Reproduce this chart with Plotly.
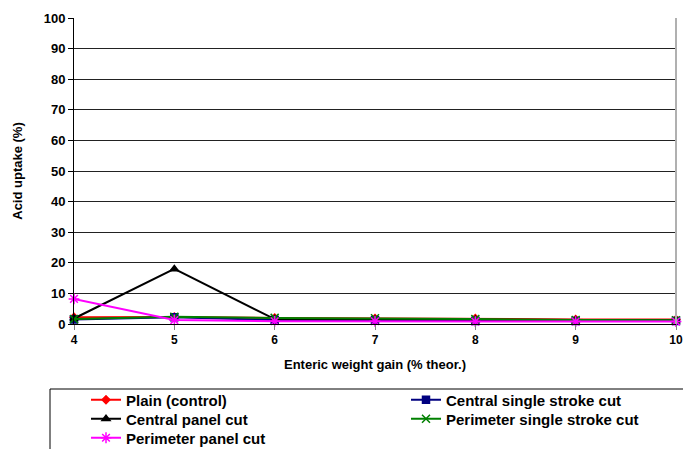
import plotly.graph_objects as go

x_vals = [4, 5, 6, 7, 8, 9, 10]
plain_control = [2.2, 2.3, 2.0, 1.8, 1.8, 1.5, 1.5]
central_single = [1.5, 2.2, 1.3, 1.2, 1.0, 1.0, 1.0]
central_panel = [1.8, 18.0, 1.6, 1.5, 1.4, 1.2, 1.2]
perimeter_single = [1.6, 2.4, 2.0, 1.9, 1.6, 1.3, 1.2]
perimeter_panel = [8.2, 1.3, 0.9, 0.9, 0.8, 0.8, 0.8]

series = [
    ("Plain (control)", plain_control, "#ff0000", "diamond", 6, "legend"),
    ("Central single stroke cut", central_single, "#000080", "square", 7, "legend2"),
    ("Central panel cut", central_panel, "#000000", "triangle-up", 7, "legend3"),
    ("Perimeter single stroke cut", perimeter_single, "#008000", "x-thin-open", 8, "legend4"),
    ("Perimeter panel cut", perimeter_panel, "#ff00ff", "asterisk-open", 9, "legend5"),
]

FONT = "Liberation Sans, Arial, sans-serif"
W, H = 683, 449
L, R, T = 74, 7, 18
PW = W - L - R
PH = 306
B = H - T - PH


def px_x(px):
    return (px - L) / PW


def px_y(py):
    return (T + PH - py) / PH


fig = go.Figure()
for name, vals, col, sym, size, leg in series:
    fig.add_trace(go.Scatter(
        x=x_vals, y=vals, name=name, mode="lines+markers",
        line=dict(color=col, width=2),
        marker=dict(symbol=sym, size=size, color=col, line=dict(color=col, width=1.5)),
        cliponaxis=False, legend=leg,
    ))

legend_font = dict(family=FONT, size=15, weight="bold", color="black")
col1_x = px_x(86)
col2_x = px_x(406)
legend_pos = {
    "legend": (col1_x, 400),
    "legend2": (col2_x, 400),
    "legend3": (col1_x, 419),
    "legend4": (col2_x, 419),
    "legend5": (col1_x, 438),
}
legend_layout = {}
for key, (lx, ly) in legend_pos.items():
    legend_layout[key] = dict(
        x=lx, xanchor="left", y=px_y(ly), yanchor="middle",
        font=legend_font, bgcolor="rgba(0,0,0,0)", borderwidth=0,
    )

fig.update_layout(
    width=W, height=H,
    margin=dict(l=L, r=R, t=T, b=B, autoexpand=False),
    paper_bgcolor="white", plot_bgcolor="white",
    font=dict(family=FONT, size=12, color="black", weight="bold"),
    xaxis=dict(
        range=[4, 10], tickvals=x_vals, ticks="outside", ticklen=5,
        tickcolor="#808080", showline=True, linecolor="black", linewidth=1,
        showgrid=False, zeroline=False, automargin=False,
        ticklabeloverflow="allow",
        tickfont=dict(family=FONT, size=12, weight="bold"),
        title=dict(text="Enteric weight gain (% theor.)",
                   font=dict(family=FONT, size=13, weight="bold"), standoff=13),
    ),
    yaxis=dict(
        range=[0, 100], dtick=10, ticks="outside", ticklen=5,
        tickcolor="black", showline=True, linecolor="black", linewidth=1,
        showgrid=True, gridcolor="#222222", gridwidth=1, zeroline=False,
        automargin=False, ticklabeloverflow="allow",
        tickfont=dict(family=FONT, size=13, weight="bold"),
        title=dict(text="Acid uptake (%)",
                   font=dict(family=FONT, size=13, weight="bold"), standoff=18),
    ),
    showlegend=True,
    **legend_layout,
)

# legend box frame (extends off the page like the reference)
fig.add_shape(type="rect", xref="paper", yref="paper",
              x0=px_x(50), x1=1.2, y0=-0.6, y1=px_y(389),
              line=dict(color="black", width=1), fillcolor="rgba(0,0,0,0)", layer="below")
# right plot border in gray
fig.add_shape(type="line", xref="paper", yref="paper", x0=1, x1=1, y0=0, y1=1,
              line=dict(color="#b0b0b0", width=2))

fig.write_html(
    "out.html",
    config={"displayModeBar": False},
    post_script="document.body.style.margin='0';document.body.style.overflow='hidden';",
)
